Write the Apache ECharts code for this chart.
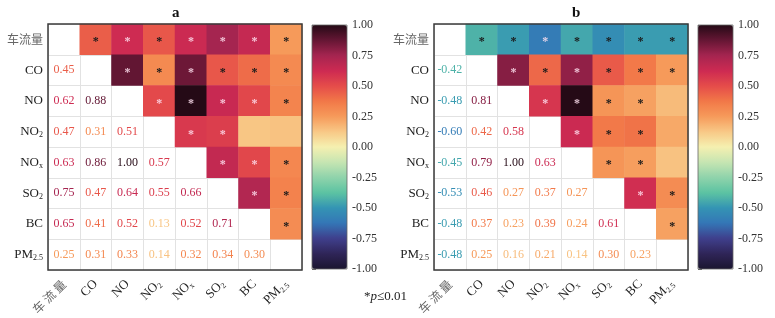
<!DOCTYPE html>
<html><head><meta charset="utf-8">
<script src="https://cdn.jsdelivr.net/npm/echarts@6/dist/echarts.min.js"></script>
<style>html,body{margin:0;padding:0;background:#fff}#c{width:775px;height:318px}</style>
</head><body><div id="c"></div>
<script>
// ---- data ----
const categories = ['车流量', 'CO', 'NO', 'NO2', 'NOx', 'SO2', 'BC', 'PM2.5'];
const panelTitles = ['a', 'b'];
// lower-triangle correlations, row r has r values (columns 0..r-1)
const corrA = [
  [],
  [0.45],
  [0.62, 0.88],
  [0.47, 0.31, 0.51],
  [0.63, 0.86, 1.00, 0.57],
  [0.75, 0.47, 0.64, 0.55, 0.66],
  [0.65, 0.41, 0.52, 0.13, 0.52, 0.71],
  [0.25, 0.31, 0.33, 0.14, 0.32, 0.34, 0.30]
];
const sigA = [
  [],
  [1],
  [1, 1],
  [1, 1, 1],
  [1, 1, 1, 1],
  [1, 1, 1, 1, 1],
  [1, 1, 1, 0, 1, 1],
  [1, 1, 1, 0, 1, 1, 1]
];
const corrB = [
  [],
  [-0.42],
  [-0.48, 0.81],
  [-0.60, 0.42, 0.58],
  [-0.45, 0.79, 1.00, 0.63],
  [-0.53, 0.46, 0.27, 0.37, 0.27],
  [-0.48, 0.37, 0.23, 0.39, 0.24, 0.61],
  [-0.48, 0.25, 0.16, 0.21, 0.14, 0.30, 0.23]
];
const sigB = [
  [],
  [1],
  [1, 1],
  [1, 1, 1],
  [1, 1, 1, 1],
  [1, 1, 1, 1, 1],
  [1, 1, 1, 1, 1, 1],
  [1, 1, 0, 0, 0, 1, 1]
];
const colorbarTicks = [-1, -0.75, -0.5, -0.25, 0, 0.25, 0.5, 0.75, 1];
const footnote = ['*', 'p', '≤0.01'];

// ---- styling ----
const SERIF = "'Liberation Serif','Times New Roman','Noto Sans CJK SC',serif";
const CJK = "'Noto Sans CJK SC',sans-serif";
const cmapStops = [
  '#1b1530', '#2f2558', '#3f3f8c', '#3476b6', '#3494b4', '#5cc3a2', '#8fd3ab', '#c6e5b2',
  '#f5f0b0',
  '#f8c886', '#f69a5a', '#f27848', '#e54c4a', '#cd2a52', '#a52550', '#651634', '#250a16'
];
function hex2rgb(h) { return [parseInt(h.substr(1, 2), 16), parseInt(h.substr(3, 2), 16), parseInt(h.substr(5, 2), 16)]; }
function cmap(v) {
  const t = Math.max(0, Math.min(1, (v + 1) / 2)) * (cmapStops.length - 1);
  const i = Math.min(cmapStops.length - 2, Math.floor(t));
  const f = t - i;
  const a = hex2rgb(cmapStops[i]), b = hex2rgb(cmapStops[i + 1]);
  const c = a.map((x, k) => Math.round(x + (b[k] - x) * f));
  return 'rgb(' + c.join(',') + ')';
}
function catLabel(c, spaced) {
  if (c === '车流量') return spaced ? '{cn|车 流 量}' : '{cn|车流量}';
  if (c === 'NO2') return '{m|NO}{s|2}';
  if (c === 'NOx') return '{m|NO}{s|x}';
  if (c === 'SO2') return '{m|SO}{s|2}';
  if (c === 'PM2.5') return '{m|PM}{s|2.5}';
  return '{m|' + c + '}';
}
const rich = {
  m: { fontFamily: SERIF, fontSize: 13, color: '#222' },
  s: { fontFamily: SERIF, fontSize: 8, color: '#222', padding: [7, 0, 0, 0] },
  cn: { fontFamily: CJK, fontSize: 12, color: '#666' }
};

const panels = [
  { corr: corrA, sig: sigA, left: 48, cb: 312, title: 177 },
  { corr: corrB, sig: sigB, left: 434, cb: 698, title: 577 }
];

const option = {
  animation: false,
  backgroundColor: '#fff',
  grid: [], xAxis: [], yAxis: [], series: [], visualMap: [], graphic: []
};

panels.forEach((p, k) => {
  const g = option.grid.length;
  option.grid.push({ left: p.left, top: 24, width: 254, height: 246, show: true, borderColor: '#3a3a3a', borderWidth: 1.5, backgroundColor: 'transparent', z: 10 });
  option.grid.push({ left: p.cb, top: 25, width: 35, height: 244, show: true, borderColor: '#666', borderWidth: 0.8, backgroundColor: 'transparent', z: 10 });
  option.xAxis.push({
    type: 'category', gridIndex: g, data: categories, position: 'bottom',
    axisLine: { show: false }, axisTick: { show: false },
    splitLine: { show: true, lineStyle: { color: '#e2e2e2', width: 1 } },
    axisLabel: { rotate: 45, margin: 12, formatter: c => catLabel(c, true), rich: rich, interval: 0 }
  });
  option.yAxis.push({
    type: 'category', gridIndex: g, data: categories, inverse: true,
    axisLine: { show: false }, axisTick: { show: false },
    splitLine: { show: true, lineStyle: { color: '#e2e2e2', width: 1 } },
    axisLabel: { margin: 5, formatter: c => catLabel(c, false), rich: rich, interval: 0 }
  });
  // colorbar axes
  option.xAxis.push({ type: 'value', gridIndex: g + 1, show: false, min: 0, max: 1 });
  option.yAxis.push({
    type: 'value', gridIndex: g + 1, position: 'right', min: -1, max: 1, interval: 0.25,
    axisLine: { show: false }, splitLine: { show: false },
    axisTick: { show: true, length: 4, lineStyle: { color: '#444', width: 0.8 } },
    axisLabel: { margin: 5, fontFamily: SERIF, fontSize: 12, color: '#333', formatter: v => v.toFixed(2), customValues: colorbarTicks }
  });

  const upper = [], lower = [];
  for (let r = 1; r < categories.length; r++) {
    for (let c = 0; c < r; c++) {
      const v = p.corr[r][c];
      const s = p.sig[r][c];
      const light = v >= 0.5 || v <= -0.55;
      upper.push({
        value: [r, c, v],
        label: { formatter: s ? '*' : '', color: light ? 'rgba(255,225,240,0.85)' : '#1a1a1a' }
      });
      lower.push({
        value: [c, r, v],
        label: { formatter: v.toFixed(2), color: cmap(v) }
      });
    }
  }
  const sIdx = option.series.length;
  option.series.push({
    type: 'heatmap', xAxisIndex: g, yAxisIndex: g, data: upper,
    label: { show: true, fontFamily: SERIF, fontSize: 12, fontWeight: 'bold', offset: [0, 3] },
    itemStyle: { borderWidth: 0 }, emphasis: { disabled: true }
  });
  option.series.push({
    type: 'heatmap', xAxisIndex: g, yAxisIndex: g, data: lower,
    itemStyle: { color: 'rgba(0,0,0,0)' },
    label: { show: true, fontFamily: SERIF, fontSize: 12 }, emphasis: { disabled: true }
  });
  option.visualMap.push({
    type: 'continuous', min: -1, max: 1, seriesIndex: sIdx, dimension: 2,
    left: p.cb, top: 25, itemWidth: 35, itemHeight: 244, padding: 0,
    calculable: false, hoverLink: false, text: null, showLabel: false,
    inRange: { color: cmapStops }
  });
  option.graphic.push({
    type: 'text', left: p.title - 5, top: 6,
    style: { text: panelTitles[k], font: "bold 15px 'Liberation Serif', serif", fill: '#111' }
  });
});

option.graphic.push({
  type: 'text', left: 364, top: 290,
  style: {
    text: '{a|' + footnote[0] + '}{i|' + footnote[1] + '}{a|' + footnote[2] + '}',
    rich: {
      a: { fontFamily: SERIF, fontSize: 13, fill: '#222' },
      i: { fontFamily: SERIF, fontSize: 13, fontStyle: 'italic', fill: '#222' }
    }
  }
});

const chart = echarts.init(document.getElementById('c'), null, { renderer: 'canvas' });
chart.setOption(option);
</script></body></html>
